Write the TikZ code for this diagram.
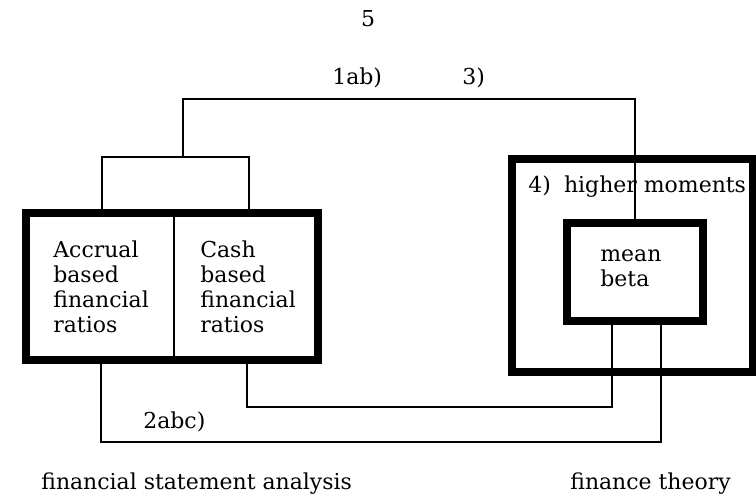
\documentclass[tikz,border=0pt]{standalone}
\usepackage{fontspec}
\setmainfont{DejaVu Serif}

\begin{document}
\begin{tikzpicture}[x=0.02cm,y=-0.02cm]
	\tikzset{frame/.style = {draw, line width=0.16cm, inner sep=0pt}}
	\tikzset{link/.style = {line width=0.9pt}}
	\tikzset{txt/.style = {font=\fontsize{12.5}{14.4}\selectfont, inner sep=0pt, align=left}}

	\useasboundingbox (0,0) rectangle (756,499);

	% boxes
	\node[frame, minimum width=5.84cm, minimum height=2.94cm] (fsa) at (172,286.5) {};
	\node[frame, minimum width=4.82cm, minimum height=4.26cm] (ft) at (632.5,265.5) {};
	\node[frame, minimum width=2.72cm, minimum height=1.96cm] (mb) at (635,272) {};
	\draw[link] (174,213) -- (174,360);

	% multi-line nodes: base is the last line
	\node[txt, anchor=base west] (acc) at (53,333) {Accrual\\based\\financial\\ratios};
	\node[txt, anchor=base west] (cash) at (200,333) {Cash\\based\\financial\\ratios};
	\node[txt, anchor=base west] (hm) at (528,193) {4)\hspace{0.6em}higher moments};
	\node[txt, anchor=base west] (mean) at (600,287) {mean\\beta};

	\node[txt, anchor=base] (page) at (368,27) {5};
	\node[txt, anchor=base west] (l1) at (332,85) {1ab)};
	\node[txt, anchor=base west] (l3) at (462,85) {3)};
	\node[txt, anchor=base west] (l2) at (143,428) {2abc)};
	\node[txt, anchor=base west] (fsa-lbl) at (41,489) {financial statement analysis};
	\node[txt, anchor=base west] (ft-lbl) at (570,489) {finance theory};

	% connectors
	\coordinate (top) at (183,99);
	\coordinate (bar) at (183,157);
	\coordinate (barL) at (102,157);
	\coordinate (barR) at (249,157);
	\draw[link] (mb.north) |- (top) -- (bar);
	\draw[link] (barL |- fsa.north) |- (barR) -- (barR |- fsa.north);

	\coordinate (midA) at (247,407);
	\coordinate (midB) at (612,407);
	\coordinate (lowA) at (101,442);
	\coordinate (lowB) at (661,442);
	\draw[link] (midA |- fsa.south) -- (midA) -- (midB) -- (midB |- mb.south);
	\draw[link] (lowA |- fsa.south) -- (lowA) -- (lowB) -- (lowB |- mb.south);
\end{tikzpicture}
\end{document}
